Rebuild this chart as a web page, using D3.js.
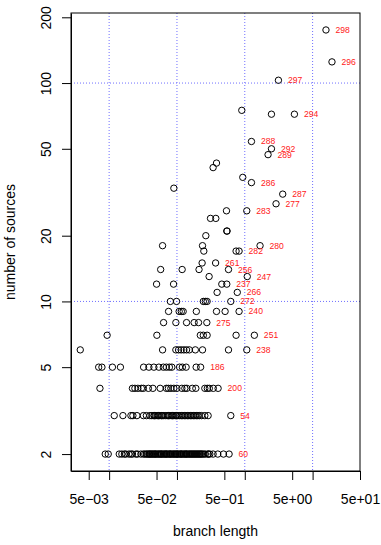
<!DOCTYPE html>
<html>
<head>
<meta charset="utf-8">
<script src="https://cdn.jsdelivr.net/npm/d3@7"></script>
<style>
body { margin: 0; background: #fff; }
svg { display: block; font-family: "Liberation Sans", Arial, sans-serif; }
</style>
</head>
<body>
<div id="chart"></div>
<script>
// number of sources per row, and the branch lengths of the unlabelled points in that row
const sourceCounts = [2, 3, 4, 5, 6, 7, 8, 9, 10, 11, 12, 13, 14, 15, 17, 18, 20, 21, 24, 26, 33, 37, 41, 43, 72, 75];
const branchLengths = [
	[0.00876, 0.0097, 0.0141, 0.0154, 0.0168, 0.0176, 0.0196, 0.0210, 0.0221, 0.0248, 0.0262, 0.0294, 0.0320, 0.0336, 0.0354, 0.0366, 0.0385, 0.0392, 0.0406, 0.0420, 0.0434, 0.0449, 0.0465, 0.0481, 0.0490, 0.0515, 0.0532, 0.0551, 0.0570, 0.0589, 0.0601, 0.0631, 0.0652, 0.0675, 0.0698, 0.0710, 0.0747, 0.0773, 0.0800, 0.0815, 0.0856, 0.0885, 0.0916, 0.0947, 0.0980, 0.1014, 0.1030, 0.1085, 0.1122, 0.1161, 0.1180, 0.1242, 0.1285, 0.1330, 0.1376, 0.1400, 0.1472, 0.1523, 0.1576, 0.1630, 0.1685, 0.1744, 0.1805, 0.1866, 0.1931, 0.1998, 0.2067, 0.2138, 0.2212, 0.2288, 0.2367, 0.2490, 0.2620, 0.2881, 0.2881, 0.3052, 0.3413, 0.4002, 0.4857],
	[0.01189, 0.01597, 0.02095, 0.02241, 0.02567, 0.0320, 0.03543, 0.0399, 0.0427, 0.04568, 0.0465, 0.04889, 0.05232, 0.0532, 0.0560, 0.05993, 0.0601, 0.06413, 0.06864, 0.07345, 0.0747, 0.07861, 0.08413, 0.0856, 0.09003, 0.09634, 0.0980, 0.1031, 0.1103, 0.1161, 0.1221, 0.1285, 0.1352, 0.1423, 0.1497, 0.1576, 0.1658, 0.1744, 0.1835, 0.1931, 0.2032, 0.2138, 0.2303, 0.2576, 0.2881],
	[0.00732, 0.02204, 0.02399, 0.02656, 0.0299, 0.0320, 0.03792, 0.04417, 0.05657, 0.06982, 0.07471, 0.08132, 0.09003, 0.09966, 0.1181, 0.1307, 0.1399, 0.1685, 0.1899, 0.2576, 0.2804, 0.3000, 0.3437],
	[0.00701, 0.00783, 0.01118, 0.01467, 0.03222, 0.03857, 0.04568, 0.05413, 0.06306, 0.06982, 0.0773, 0.0841, 0.1092, 0.1201, 0.1366, 0.1918],
	[0.003753, 0.06137, 0.09634, 0.1056, 0.1153, 0.1264, 0.1385, 0.1523, 0.1866, 0.2382, 0.5754],
	[0.00934, 0.05058, 0.2212, 0.2448, 0.2785, 0.7444],
	[0.06349, 0.09634, 0.1385, 0.1792, 0.2081],
	[0.07522, 0.1078, 0.1161, 0.1234, 0.1931, 0.3829, 0.5128],
	[0.07996, 0.09865, 0.2448, 0.262, 0.2785],
	[0.3908],
	[0.05006, 0.08913, 0.4584],
	[0.298],
	[0.05754, 0.1193, 0.2116],
	[0.235],
	[0.249, 0.7444],
	[0.06137, 0.2382],
	[0.2665],
	[0.5431, 0.548],
	[0.3124, 0.3741],
	[0.5376],
	[0.09003],
	[0.9344],
	[0.3413],
	[0.3829],
	[2.474],
	[0.9033]
];

// labelled points
const labelIds     = ["298", "296", "297", "294", "288", "292", "289", "286", "287", "277", "283", "280", "282", "261", "256", "247", "237", "266", "272", "240", "275", "251", "238", "186", "200", "54", "60"];
const labelLengths = [15.75, 19.31, 3.135, 5.395, 1.255, 2.474, 2.204, 1.255, 3.627, 2.891, 1.07, 1.68, 0.8243, 0.3715, 0.5754, 1.088, 0.5431, 0.7755, 0.622, 0.8243, 0.2757, 1.385, 1.07, 0.2234, 0.4043, 0.622, 0.5872];
const labelSources = [175, 125, 103, 72, 54, 50, 47, 35, 31, 28, 26, 18, 17, 15, 14, 13, 12, 11, 10, 9, 8, 7, 6, 5, 4, 3, 2];

const xTicks = [5e-3, 1e-2, 5e-2, 1e-1, 5e-1, 1, 5, 10, 50];
const xTickLabels = ["5e\u221203", "", "5e\u221202", "", "5e\u221201", "", "5e+00", "", "5e+01"];
const yTicks = [2, 5, 10, 20, 50, 100, 200];
const gridX = [0.01, 0.1, 1, 10];
const gridY = [10, 100];

const outerwidth = 381;
const outerheight = 545;
const plotLeft = 71, plotRight = 360, plotTop = 13, plotBottom = 471;

const svg = d3.select("#chart")
	.append("svg")
	.attr("width", outerwidth)
	.attr("height", outerheight);

const xscale = d3.scaleLog().domain([2.74e-3, 50]).range([plotLeft, plotRight]);
const yscale = d3.scaleLog().domain([1.673, 209.3]).range([plotBottom, plotTop]);

// grid, dotted blue
svg.append("g")
	.selectAll("line")
	.data(gridX)
	.join("line")
	.attr("x1", d => xscale(d))
	.attr("x2", d => xscale(d))
	.attr("y1", plotTop)
	.attr("y2", plotBottom)
	.attr("stroke", "#6f6fff")
	.attr("stroke-dasharray", "1,2");

svg.append("g")
	.selectAll("line")
	.data(gridY)
	.join("line")
	.attr("x1", plotLeft)
	.attr("x2", plotRight)
	.attr("y1", d => yscale(d))
	.attr("y2", d => yscale(d))
	.attr("stroke", "#6f6fff")
	.attr("stroke-dasharray", "1,2");

// points
const points = [];
sourceCounts.forEach((n, i) => branchLengths[i].forEach(b => points.push({b: b, n: n})));
labelIds.forEach((id, i) => points.push({b: labelLengths[i], n: labelSources[i]}));

svg.append("g")
	.selectAll("circle")
	.data(points)
	.join("circle")
	.attr("cx", d => xscale(d.b))
	.attr("cy", d => yscale(d.n))
	.attr("r", 3.2)
	.attr("fill", "none")
	.attr("stroke", "#000")
	.attr("stroke-width", 1);

// red labels to the right of their points
svg.append("g")
	.selectAll("text")
	.data(labelIds)
	.join("text")
	.attr("x", (d, i) => xscale(labelLengths[i]) + 9.5)
	.attr("y", (d, i) => yscale(labelSources[i]))
	.attr("dy", "0.35em")
	.attr("fill", "#ff2020")
	.style("font-size", "8.6px")
	.text(d => d);

// axes
const xaxis = svg.append("g")
	.attr("transform", "translate(0," + plotBottom + ")")
	.call(d3.axisBottom(xscale)
		.tickValues(xTicks)
		.tickFormat((d, i) => xTickLabels[i])
		.tickSize(9)
		.tickSizeOuter(0)
		.tickPadding(14));
xaxis.selectAll(".tick text")
	.style("font-size", "14px")
	.attr("fill", "#000")
	.attr("font-family", "Liberation Sans, Arial, sans-serif");
xaxis.select(".domain").attr("stroke", "#000");

const yaxis = svg.append("g")
	.attr("transform", "translate(" + plotLeft + ",0)")
	.call(d3.axisLeft(yscale)
		.tickValues(yTicks)
		.tickFormat(d => d)
		.tickSize(9)
		.tickSizeOuter(0));
yaxis.selectAll(".tick text")
	.attr("x", 0)
	.attr("dy", null)
	.attr("text-anchor", "middle")
	.attr("transform", "translate(-20.3,0) rotate(-90)")
	.style("font-size", "14px")
	.attr("fill", "#000")
	.attr("font-family", "Liberation Sans, Arial, sans-serif");

// box
svg.append("rect")
	.attr("x", plotLeft)
	.attr("y", plotTop)
	.attr("width", plotRight - plotLeft)
	.attr("height", plotBottom - plotTop)
	.attr("fill", "none")
	.attr("stroke", "#000");

// axis titles
svg.append("text")
	.attr("x", (plotLeft + plotRight) / 2)
	.attr("y", 536)
	.attr("text-anchor", "middle")
	.style("font-size", "14px")
	.text("branch length");

svg.append("text")
	.attr("transform", "translate(15," + (plotTop + plotBottom) / 2 + ") rotate(-90)")
	.attr("text-anchor", "middle")
	.style("font-size", "14px")
	.text("number of sources");
</script>
</body>
</html>
